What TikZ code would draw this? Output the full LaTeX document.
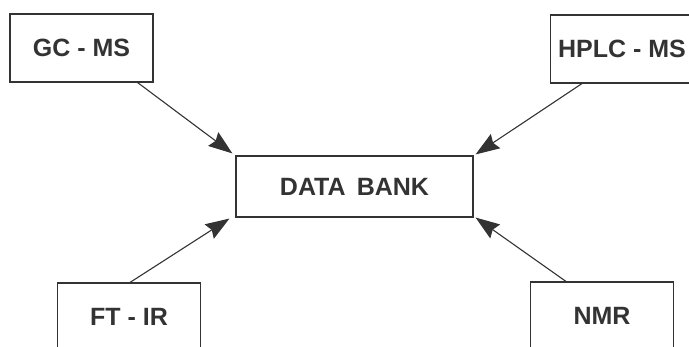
\documentclass[tikz,border=0pt]{standalone}
\usepackage{fontspec}
\setmainfont{Liberation Sans}
\usetikzlibrary{arrows.meta}
\definecolor{ink}{HTML}{333333}
\begin{document}
\begin{tikzpicture}[x=1pt,y=-1pt,
  box/.style={draw=ink,line width=1.1pt,minimum width=143pt,minimum height=68pt,inner sep=0pt,
    font=\fontsize{25}{30}\selectfont\bfseries,text=ink},
  arr/.style={draw=ink,line width=1.1pt,-{Stealth[length=24pt,width=17pt,inset=3pt]}}]
\useasboundingbox (0,0) rectangle (689,347);
\node[box] (gc) at (81.5,48) {GC - MS};
\node[box] (hplc) at (622,49) {HPLC - MS};
\node[box,minimum width=237pt,minimum height=61pt] (db) at (354.5,186.5) {DATA\, BANK};
\node[box] (ftir) at (129,317) {FT - IR};
\node[box] (nmr) at (602,316) {NMR};
\draw[arr] ([xshift=-16pt]gc.south east) -- ([xshift=-3pt,yshift=2pt]db.north west);
\draw[arr] ([xshift=-40pt]hplc.south) -- ([xshift=2pt,yshift=1pt]db.north east);
\draw[arr] ([xshift=1pt]ftir.north) -- ([xshift=-6pt,yshift=-1pt]db.south west);
\draw[arr] ([xshift=-36pt]nmr.north) -- ([xshift=2pt]db.south east);
\end{tikzpicture}
\end{document}
